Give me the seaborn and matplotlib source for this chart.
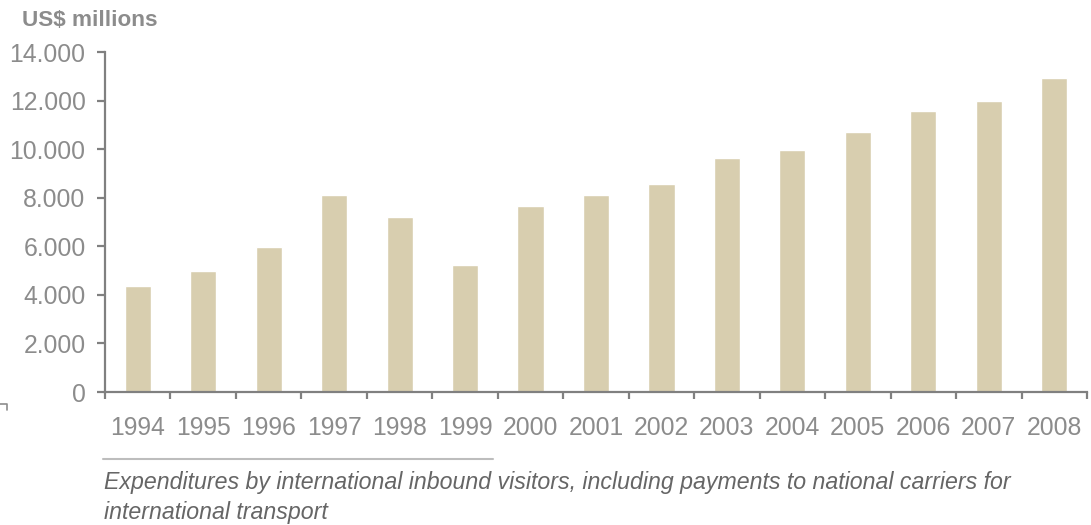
import numpy as np
import pandas as pd
import matplotlib
matplotlib.use("Agg")
import matplotlib.pyplot as plt
from matplotlib.lines import Line2D
import seaborn as sns

# International tourism receipts, US$ millions
years = ["1994", "1995", "1996", "1997", "1998", "1999", "2000", "2001",
         "2002", "2003", "2004", "2005", "2006", "2007", "2008"]
receipts = [4350, 4970, 5950, 8100, 7190, 5250, 7640, 8100,
            8550, 9620, 9950, 10690, 11550, 12000, 12910]
y_ticks = [0, 2000, 4000, 6000, 8000, 10000, 12000, 14000]
y_tick_labels = ["0", "2.000", "4.000", "6.000", "8.000", "10.000", "12.000", "14.000"]

unit_label = "US$ millions"
caption_lines = [
    "Expenditures by international inbound visitors, including payments to national carriers for",
    "international transport",
]

sns.set_theme(style="white")
plt.rcParams["font.family"] = ["Liberation Sans", "DejaVu Sans"]

AXIS = "#808080"
TICKTXT = "#8c8c8c"
BAR = "#D8CEAF"

W, H = 1091, 525
fig = plt.figure(figsize=(W / 100, H / 100), dpi=100)
ax = fig.add_axes([105 / W, 1 - 392 / H, (1087 - 105) / W, (392 - 52) / H])

df = pd.DataFrame({"year": years, "value": receipts})
sns.barplot(data=df, x="year", y="value", color=BAR, width=0.4,
            saturation=1, ax=ax)

ax.set_xlim(-0.5, len(years) - 0.5)
ax.set_ylim(0, 14000)
ax.set_xlabel("")
ax.set_ylabel("")

for side in ("top", "right"):
    ax.spines[side].set_visible(False)
for side in ("left", "bottom"):
    ax.spines[side].set_color(AXIS)
    ax.spines[side].set_linewidth(1.6)

ax.set_yticks(y_ticks)
ax.set_yticklabels(y_tick_labels)
ax.tick_params(axis="y", which="major", direction="out", length=6, width=1.6,
               color=AXIS, labelcolor=TICKTXT, labelsize=17.8, pad=8, left=True)

# boundary ticks between categories, labels centred under each bar
ax.set_xticks(np.arange(-0.5, len(years), 1.0))
ax.set_xticklabels([])
ax.set_xticks(np.arange(len(years)), minor=True)
ax.set_xticklabels(years, minor=True)
ax.tick_params(axis="x", which="major", direction="out", length=5, width=1.6,
               color=AXIS, bottom=True)
ax.tick_params(axis="x", which="minor", length=0, labelcolor=TICKTXT,
               labelsize=17.8, pad=17, bottom=True)

fig.text(22 / W, 1 - 21 / H, unit_label, ha="left", va="center",
         fontsize=16.2, fontweight="bold", color=TICKTXT)

# rule above the note
fig.add_artist(Line2D([103 / W, 493 / W], [1 - 459 / H, 1 - 459 / H],
                      color="#bdbdbd", linewidth=1.5))
# small corner mark at left edge
fig.add_artist(Line2D([0, 7 / W, 7 / W], [1 - 404 / H, 1 - 404 / H, 1 - 410 / H],
                      color="#8c8c8c", linewidth=1.2))

fig.text(104 / W, 1 - 482 / H, caption_lines[0], ha="left", va="center",
         fontsize=16.7, style="italic", color="#666666")
fig.text(104 / W, 1 - 513 / H, caption_lines[1], ha="left", va="center",
         fontsize=16.7, style="italic", color="#666666")

fig.savefig("out.png", dpi=100, facecolor="white")
